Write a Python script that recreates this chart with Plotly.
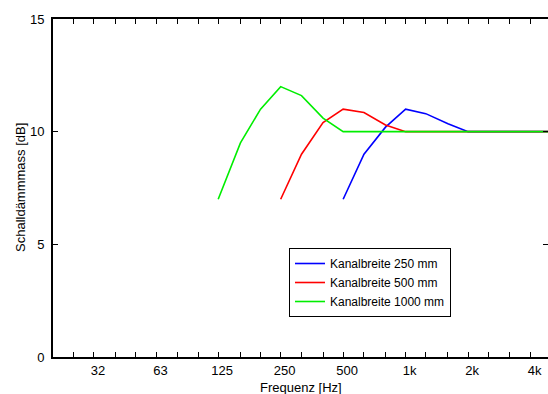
import plotly.graph_objects as go
import math

# Data (third-octave band centre frequencies in Hz, sound attenuation in dB)
freq_250 = [500, 630, 800, 1000, 1250, 1600, 2000, 2500, 3150, 4000, 5000]
att_250 = [7.0, 9.0, 10.2, 11.0, 10.8, 10.35, 10.0, 10.0, 10.0, 10.0, 10.0]

freq_500 = [250, 315, 400, 500, 630, 800, 1000, 1250, 1600, 2000, 2500, 3150, 4000, 5000]
att_500 = [7.0, 9.0, 10.4, 11.0, 10.85, 10.3, 10.0, 10.0, 10.0, 10.0, 10.0, 10.0, 10.0, 10.0]

freq_1000 = [125, 160, 200, 250, 315, 400, 500, 630, 800, 1000, 1250, 1600, 2000, 2500, 3150, 4000, 5000]
att_1000 = [7.0, 9.5, 11.0, 12.0, 11.6, 10.6, 10.0, 10.0, 10.0, 10.0, 10.0, 10.0, 10.0, 10.0, 10.0, 10.0, 10.0]

series_names = ["Kanalbreite 250 mm", "Kanalbreite 500 mm", "Kanalbreite 1000 mm"]
series_colors = ["#0000ff", "#ff0000", "#00ee00"]

tick_freqs = [25, 31.5, 40, 50, 63, 80, 100, 125, 160, 200, 250, 315, 400, 500,
              630, 800, 1000, 1250, 1600, 2000, 2500, 3150, 4000]
tick_labels = {31.5: "32", 63: "63", 125: "125", 250: "250", 500: "500",
               1000: "1k", 2000: "2k", 4000: "4k"}
tick_text = [tick_labels.get(f, "") for f in tick_freqs]

y_ticks = [0, 5, 10, 15]

FONT = "Liberation Sans, Arial, sans-serif"
FS = 13

fig = go.Figure()
for xs, ys, name, col in zip([freq_250, freq_500, freq_1000],
                             [att_250, att_500, att_1000],
                             series_names, series_colors):
    fig.add_trace(go.Scatter(x=xs, y=ys, mode="lines", name=name,
                             line=dict(color=col, width=1.6)))

# dummy trace for the right-hand tick axis
fig.add_trace(go.Scatter(x=[None], y=[None], yaxis="y2", showlegend=False,
                         hoverinfo="skip"))

W, H = 548, 394
ml, mr, mt, mb = 53, 0, 19, 37
plot_w = W - ml - mr
plot_h = H - mt - mb
octave_px = 62.48
x_lo = math.log10(20)
x_hi = x_lo + plot_w / octave_px * math.log10(2)

fig.update_layout(
    width=W, height=H,
    margin=dict(l=ml, r=mr, t=mt, b=mb, pad=0),
    paper_bgcolor="white", plot_bgcolor="white",
    font=dict(family=FONT, size=FS, color="black"),
    xaxis=dict(type="log", range=[x_lo, x_hi],
               tickvals=tick_freqs, ticktext=tick_text,
               ticks="inside", ticklen=5, tickwidth=1, tickcolor="black",
               showline=True, linecolor="black", linewidth=2,
               mirror="ticks", showgrid=False, zeroline=False,
               ticklabelshift=4, ticklabelstandoff=0,
               tickfont=dict(family=FONT, size=FS, color="black")),
    yaxis=dict(range=[0, 15], tickvals=y_ticks,
               ticks="inside", ticklen=5, tickwidth=1, tickcolor="black",
               showline=True, linecolor="black", linewidth=2,
               showgrid=False, zeroline=False, ticklabelstandoff=4,
               tickfont=dict(family=FONT, size=FS, color="black")),
    yaxis2=dict(range=[0, 15], tickvals=y_ticks, overlaying="y", side="right",
                anchor="x", ticks="inside", ticklen=5, tickwidth=1,
                tickcolor="black", showline=False, showgrid=False,
                zeroline=False, showticklabels=False),
    legend=dict(x=(289 - ml) / plot_w, y=(H - mb - 248) / plot_h,
                xanchor="left", yanchor="top",
                bgcolor="white", bordercolor="black", borderwidth=1,
                font=dict(family=FONT, size=12, color="black"),
                tracegroupgap=0, entrywidth=135, entrywidthmode="pixels"),
    showlegend=True,
    annotations=[
        dict(text="Frequenz [Hz]", xref="paper", yref="paper",
             x=0.5, y=(H - mb - 388) / plot_h,
             xanchor="center", yanchor="middle", showarrow=False,
             font=dict(family=FONT, size=FS, color="black")),
        dict(text="Schalldämmmass [dB]", xref="paper", yref="paper",
             x=(20 - ml) / plot_w, y=0.5, textangle=-90,
             xanchor="center", yanchor="middle", showarrow=False,
             font=dict(family=FONT, size=FS, color="black")),
    ],
)

fig.write_html("out.html")
